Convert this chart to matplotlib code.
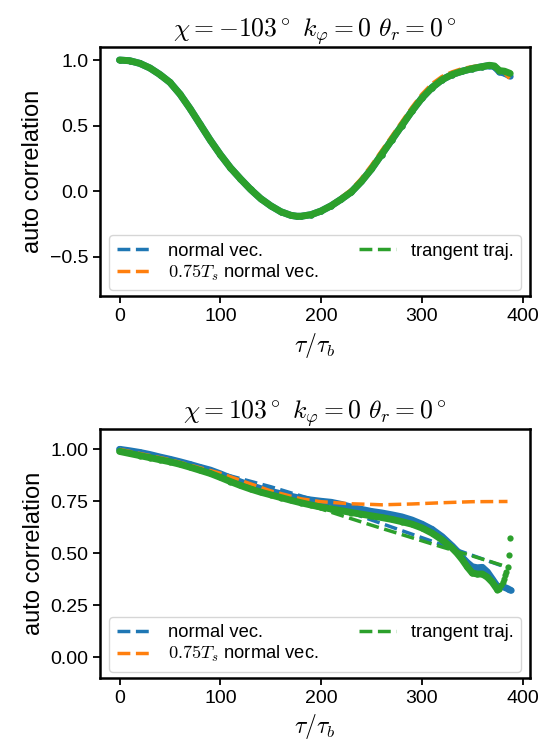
import numpy as np
import matplotlib
matplotlib.use("Agg")
import matplotlib.pyplot as plt

plt.rcParams['font.family'] = ['Liberation Sans', 'DejaVu Sans']
plt.rcParams['mathtext.fontset'] = 'cm'
plt.rcParams['font.size'] = 14

# ---------------- data: chi = -103 ----------------
x_top = [0, 10, 20, 30, 40, 50, 60, 70, 80, 90, 100, 110, 120, 130, 140, 150,
         160, 170, 176, 180, 190, 200, 210, 220, 230, 240, 250, 260, 270, 280,
         290, 300, 310, 320, 330, 340, 350, 360, 367, 372, 377, 382, 387]
top_green = [1.0, 0.995, 0.975, 0.94, 0.89, 0.83, 0.74, 0.63, 0.51, 0.39, 0.28,
             0.18, 0.095, 0.015, -0.055, -0.11, -0.155, -0.183, -0.19, -0.19,
             -0.178, -0.15, -0.11, -0.06, -0.005, 0.075, 0.17, 0.28, 0.39, 0.50,
             0.61, 0.71, 0.79, 0.85, 0.89, 0.915, 0.935, 0.95, 0.96, 0.955,
             0.92, 0.915, 0.90]
top_blue = [1.0, 0.995, 0.975, 0.94, 0.89, 0.83, 0.74, 0.63, 0.51, 0.39, 0.28,
            0.18, 0.095, 0.015, -0.055, -0.11, -0.155, -0.183, -0.19, -0.19,
            -0.178, -0.15, -0.11, -0.06, -0.005, 0.075, 0.17, 0.28, 0.39, 0.50,
            0.61, 0.71, 0.79, 0.85, 0.89, 0.915, 0.935, 0.95, 0.958, 0.95,
            0.91, 0.90, 0.88]
top_orange = [1.0, 0.995, 0.975, 0.94, 0.89, 0.83, 0.74, 0.63, 0.51, 0.39, 0.28,
              0.18, 0.095, 0.015, -0.055, -0.11, -0.155, -0.183, -0.19, -0.19,
              -0.175, -0.145, -0.10, -0.045, 0.015, 0.10, 0.20, 0.31, 0.42, 0.53,
              0.64, 0.74, 0.82, 0.875, 0.91, 0.935, 0.95, 0.96, 0.955, 0.945,
              0.925, 0.90, 0.86]

# ---------------- data: chi = 103 ----------------
x_bot = [0, 10, 20, 30, 40, 50, 60, 70, 80, 90, 100, 110, 120, 130, 140, 150,
         160, 170, 180, 190, 200, 210, 220, 230, 240, 250, 260, 270, 280, 290,
         300, 310, 320, 330, 335, 340, 345, 350, 355, 360, 365, 370, 375, 380,
         385, 388]
bot_blue = [1.0, 0.993, 0.985, 0.975, 0.963, 0.952, 0.94, 0.927, 0.913, 0.90,
            0.882, 0.862, 0.843, 0.826, 0.811, 0.798, 0.786, 0.774, 0.764, 0.756,
            0.75, 0.745, 0.735, 0.722, 0.711, 0.701, 0.694, 0.685, 0.675, 0.66,
            0.64, 0.615, 0.58, 0.535, 0.51, 0.48, 0.455, 0.435, 0.43, 0.432,
            0.41, 0.375, 0.34, 0.34, 0.33, 0.322]
x_bot_g = [0, 10, 20, 30, 40, 50, 60, 70, 80, 90, 100, 110, 120, 130, 140, 150,
           160, 170, 180, 190, 200, 210, 220, 230, 240, 250, 260, 270, 280, 290,
           300, 310, 320, 330, 335, 340, 345, 350, 355, 360, 365, 370, 375]
bot_green = [0.99, 0.98, 0.97, 0.96, 0.95, 0.94, 0.928, 0.914, 0.899, 0.884,
             0.865, 0.845, 0.826, 0.809, 0.794, 0.781, 0.768, 0.755, 0.743, 0.732,
             0.722, 0.713, 0.705, 0.696, 0.688, 0.68, 0.672, 0.663, 0.652, 0.64,
             0.622, 0.597, 0.565, 0.525, 0.50, 0.47, 0.435, 0.405, 0.40, 0.40,
             0.385, 0.36, 0.325]
x_tail = [377, 379, 381, 382, 383, 384, 385, 386, 387]
tail_green = [0.33, 0.345, 0.36, 0.378, 0.395, 0.41, 0.434, 0.493, 0.571]

x_fit = [0, 50, 100, 150, 180, 200, 230, 250, 260, 290, 300, 320, 350, 385]
fit_blue = [1.0, 0.945, 0.885, 0.82, 0.776, 0.745, 0.694, 0.66, 0.643, 0.592,
            0.575, 0.541, 0.49, 0.43]
fit_orange = [1.0, 0.95, 0.885, 0.80, 0.762, 0.748, 0.738, 0.735, 0.733, 0.737,
              0.739, 0.743, 0.748, 0.749]
fit_green = [0.99, 0.94, 0.865, 0.781, 0.743, 0.713, 0.666, 0.635, 0.62, 0.575,
             0.56, 0.53, 0.487, 0.434]

c_blue, c_orange, c_green = '#1f77b4', '#ff7f0e', '#2ca02c'

fig, axes = plt.subplots(2, 1, figsize=(5.42, 7.45), dpi=100)
fig.subplots_adjust(left=0.1845, right=0.978, top=0.937, bottom=0.09, hspace=0.53)


def dots(ax, x, y, c):
    ax.plot(x, y, '-', color=c, lw=5, solid_capstyle='round', solid_joinstyle='round')
    ax.plot(x, y, 'o', color=c, ms=4.5, mew=0)


# top
ax = axes[0]
dots(ax, x_top, top_blue, c_blue)
ax.plot(x_top, top_blue, '--', color=c_blue, lw=2.5, label='normal vec.')
ax.plot(x_top, top_orange, '--', color=c_orange, lw=2.5, label=r'$0.75T_s$ normal vec.')
dots(ax, x_top, top_green, c_green)
ax.plot(x_top, top_green, '--', color=c_green, lw=2.5, label='trangent traj.')
ax.set_ylim(-0.8, 1.1)
ax.set_yticks([-0.5, 0.0, 0.5, 1.0])
ax.set_title(r'$\chi = -103^\circ\ k_\varphi = 0\ \theta_r = 0^\circ$', fontsize=18.5)

# bottom
ax = axes[1]
dots(ax, x_bot, bot_blue, c_blue)
ax.plot(x_fit, fit_blue, '--', color=c_blue, lw=2.5, label='normal vec.')
ax.plot(x_fit, fit_orange, '--', color=c_orange, lw=2.5, label=r'$0.75T_s$ normal vec.')
dots(ax, x_bot_g, bot_green, c_green)
ax.plot(x_tail, tail_green, 'o', color=c_green, ms=4.5, mew=0)
ax.plot(x_fit, fit_green, '--', color=c_green, lw=2.5, label='trangent traj.')
ax.set_ylim(-0.1, 1.1)
ax.set_yticks([0.0, 0.25, 0.5, 0.75, 1.0])
ax.set_title(r'$\chi = 103^\circ\ k_\varphi = 0\ \theta_r = 0^\circ$', fontsize=18.5)

for ax in axes:
    ax.set_xlim(-19.4, 407.4)
    ax.set_xticks([0, 100, 200, 300, 400])
    ax.set_xlabel(r'$\tau/\tau_b$', fontsize=17)
    ax.set_ylabel('auto correlation', fontsize=17)
    ax.legend(loc='lower center', ncol=2, fontsize=13.2, labelspacing=0.15,
              borderaxespad=0.35, columnspacing=2.2)
    for s in ax.spines.values():
        s.set_linewidth(1.8)
    ax.tick_params(width=1.3, length=5, labelsize=14)

fig.savefig('out.png', dpi=100)
